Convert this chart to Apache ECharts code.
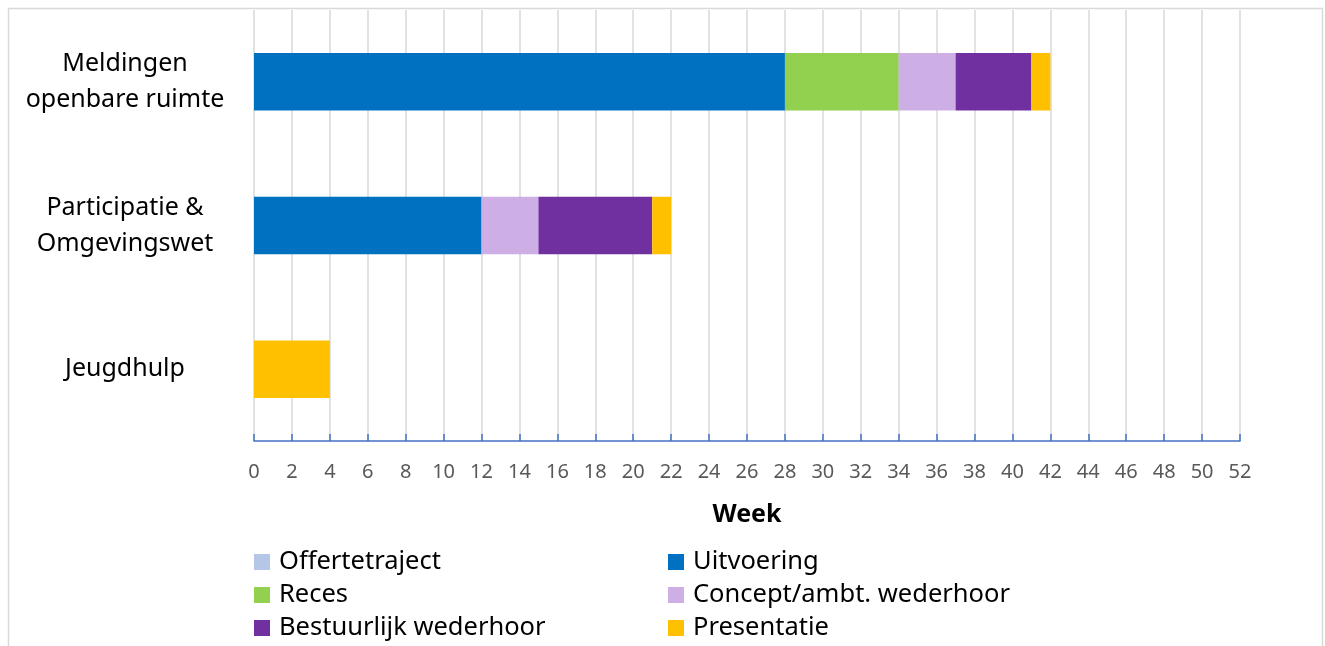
<!DOCTYPE html>
<html>
<head>
<meta charset="utf-8">
<script src="https://cdn.jsdelivr.net/npm/echarts@6/dist/echarts.min.js"></script>
<style>
html, body { margin: 0; padding: 0; background: #fff; }
#chart { width: 1325px; height: 646px; }
</style>
</head>
<body>
<div id="chart"></div>
<script>
var categories = ['Meldingen\nopenbare ruimte', 'Participatie &\nOmgevingswet', 'Jeugdhulp'];
var offertetraject = [0, 0, 0];
var uitvoering = [28, 12, 0];
var reces = [6, 0, 0];
var concept = [3, 3, 0];
var bestuurlijk = [4, 6, 0];
var presentatie = [1, 1, 4];

var seriesNames = ['Offertetraject', 'Uitvoering', 'Reces', 'Concept/ambt. wederhoor', 'Bestuurlijk wederhoor', 'Presentatie'];
var seriesData = [offertetraject, uitvoering, reces, concept, bestuurlijk, presentatie];
var seriesColors = ['#B4C7E7', '#0070C0', '#92D050', '#CDAFE5', '#7030A0', '#FFC000'];

(function setbar(){
    var chart = echarts.init(document.getElementById('chart'));
    var series = seriesNames.map(function(name, i){
        return {
            name: name,
            type: 'bar',
            stack: 'sum',
            barWidth: '40%',
            itemStyle: { color: seriesColors[i] },
            data: seriesData[i]
        };
    });
    var legendText = { fontFamily: 'Noto Sans', fontSize: 25.5, color: '#000', lineHeight: 24, padding: [0, 0, 0, 4] };
    var option = {
        animation: false,
        textStyle: { fontFamily: 'Noto Sans' },
        graphic: [{
            type: 'rect',
            shape: { x: 8.5, y: 8.5, width: 1314, height: 660 },
            style: { fill: 'none', stroke: '#d9d9d9', lineWidth: 1.5 },
            silent: true
        }],
        grid: { left: 254, right: 85, top: 10, bottom: 205 },
        legend: [{
            orient: 'vertical',
            left: 249,
            top: 544,
            height: 140,
            padding: 5,
            itemWidth: 16,
            itemHeight: 16,
            itemGap: 7,
            icon: 'rect',
            textStyle: legendText,
            data: ['Offertetraject', 'Reces', 'Bestuurlijk wederhoor']
        }, {
            orient: 'vertical',
            left: 663,
            top: 544,
            height: 140,
            padding: 5,
            itemWidth: 16,
            itemHeight: 16,
            itemGap: 7,
            icon: 'rect',
            textStyle: legendText,
            data: ['Uitvoering', 'Concept/ambt. wederhoor', 'Presentatie']
        }],
        xAxis: {
            type: 'value',
            min: 0,
            max: 52,
            interval: 2,
            name: 'Week',
            nameLocation: 'middle',
            nameGap: 61,
            nameTextStyle: { fontSize: 25, fontWeight: 'bold', color: '#000' },
            axisLine: { show: true, lineStyle: { color: '#4472C4', width: 1.5 } },
            axisTick: { show: true, inside: true, length: 7, lineStyle: { color: '#4472C4', width: 1.5 } },
            axisLabel: { fontSize: 20, color: '#595959', margin: 21 },
            splitLine: { show: true, lineStyle: { color: '#d9d9d9', width: 1.5 } }
        },
        yAxis: {
            type: 'category',
            inverse: true,
            data: categories,
            axisLine: { show: false },
            axisTick: { show: false },
            axisLabel: { fontSize: 25, color: '#000', align: 'center', margin: 129, lineHeight: 36 }
        },
        series: series
    };
    chart.setOption(option);
})();
</script>
</body>
</html>
